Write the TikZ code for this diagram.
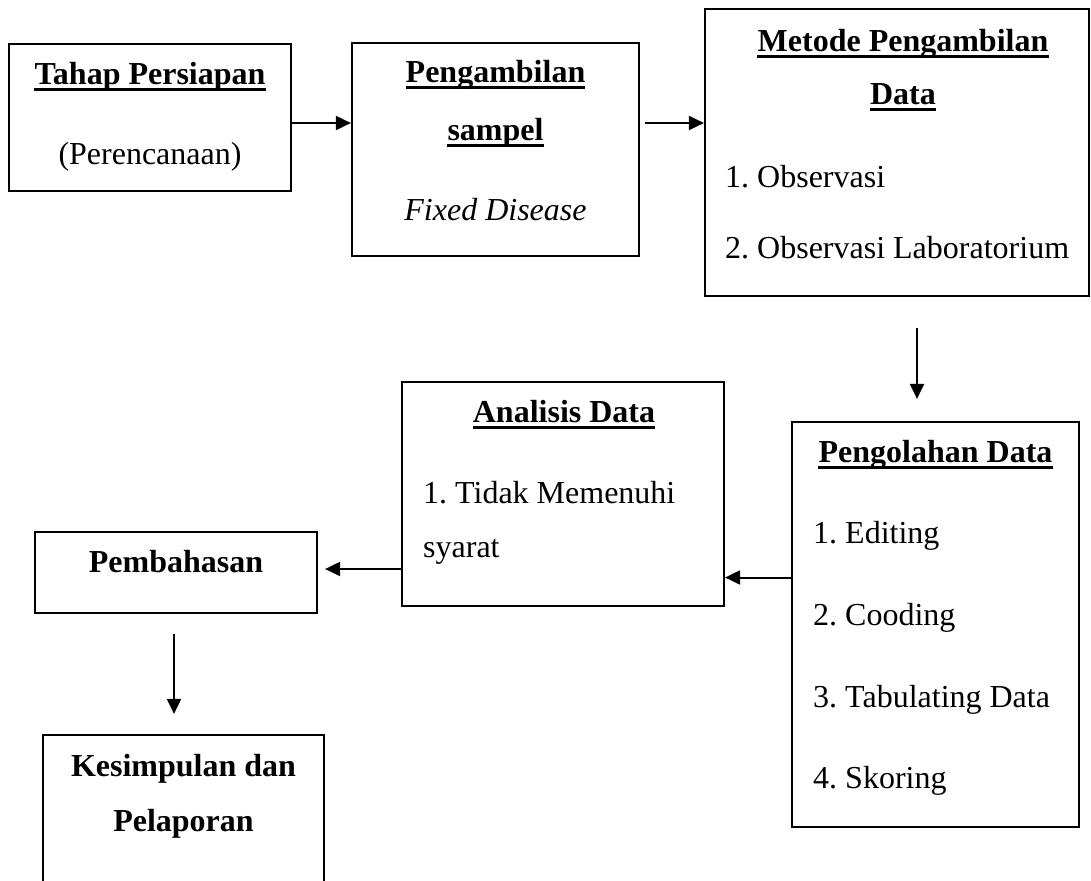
\documentclass[tikz,border=0pt]{standalone}
\usepackage{fontspec}
\setmainfont{Liberation Serif}
\usetikzlibrary{arrows.meta}
\frenchspacing
\tikzset{
  box/.style={draw, line width=2.2pt, rectangle, inner sep=0pt},
  txt/.style={inner sep=0pt, anchor=base, font=\fontsize{32pt}{38pt}\selectfont},
  ltxt/.style={txt, anchor=base west},
  btxt/.style={txt, font=\fontsize{32pt}{38pt}\selectfont\bfseries},
  itxt/.style={txt, font=\fontsize{32pt}{38pt}\selectfont\itshape},
  uline/.style={line width=3pt},
  arr/.style={line width=2pt, -{Triangle[length=15pt,width=14pt]}}
}
\begin{document}
\begin{tikzpicture}[x=1pt,y=-1pt]
\clip (0,0) rectangle (1091,880);
\fill[white] (0,0) rectangle (1091,880);
% boxes
\node[box, minimum width=282pt, minimum height=147pt] (b1) at (150,117.5) {};
\node[box, minimum width=287pt, minimum height=213pt] (b2) at (495.5,149.5) {};
\node[box, minimum width=384pt, minimum height=287pt] (b3) at (897,152.5) {};
\node[box, minimum width=287pt, minimum height=405pt] (b4) at (935.5,624.5) {};
\node[box, minimum width=322pt, minimum height=224pt] (b5) at (563,494) {};
\node[box, minimum width=282pt, minimum height=81pt] (b6) at (176,572.5) {};
\node[box, minimum width=281pt, minimum height=170pt] (b7) at (183.5,820) {};
% box 1 texts
\node[btxt] (t1a) at (150,85) {Tahap Persiapan};
\draw[uline] ([yshift=-4.5pt]t1a.base west) -- ([yshift=-4.5pt]t1a.base east);
\node[txt] (t1b) at (150,164) {(Perencanaan)};
% box 2 texts
\node[btxt] (t2a) at (495.5,83) {Pengambilan};
\draw[uline] ([yshift=-5pt]t2a.base west) -- ([yshift=-5pt]t2a.base east);
\node[btxt] (t2b) at (495.5,140) {sampel};
\draw[uline] ([yshift=-5pt]t2b.base west) -- ([yshift=-5pt]t2b.base east);
\node[itxt] (t2c) at (495.5,220) {Fixed Disease};
% box 3 texts
\node[btxt] (t3a) at (903,52) {Metode Pengambilan};
\draw[uline] ([yshift=-5pt]t3a.base west) -- ([yshift=-5pt]t3a.base east);
\node[btxt] (t3b) at (903,105) {Data};
\draw[uline] ([yshift=-5pt]t3b.base west) -- ([yshift=-5pt]t3b.base east);
\node[ltxt] (t3c) at (725,187) {1. Observasi};
\node[ltxt] (t3d) at (725,258) {2. Observasi Laboratorium};
% box 4 texts
\node[btxt] (t4a) at (935.5,462) {Pengolahan Data};
\draw[uline] ([yshift=-5pt]t4a.base west) -- ([yshift=-5pt]t4a.base east);
\node[ltxt] (t4b) at (813,543) {1. Editing};
\node[ltxt] (t4c) at (813,625) {2. Cooding};
\node[ltxt] (t4d) at (813,707) {3. Tabulating Data};
\node[ltxt] (t4e) at (813,788) {4. Skoring};
% box 5 texts
\node[btxt] (t5a) at (564,422) {Analisis Data};
\draw[uline] ([yshift=-5pt]t5a.base west) -- ([yshift=-5pt]t5a.base east);
\node[ltxt] (t5b) at (423,503) {1. Tidak Memenuhi};
\node[ltxt] (t5c) at (423,557) {syarat};
% box 6 text
\node[btxt] (t6a) at (176,572) {Pembahasan};
% box 7 texts
\node[btxt] (t7a) at (183.5,776) {Kesimpulan dan};
\node[btxt] (t7b) at (183.5,831) {Pelaporan};
% arrows
\draw[arr] ([yshift=-5.5pt]b1.east) coordinate (s1) -- (s1 -| b2.west);
\draw[arr] ([xshift=5pt,yshift=26.5pt]b2.east) coordinate (s2) -- (s2 -| b3.west);
\draw[arr] ([xshift=20pt,yshift=-31pt]b3.south) -- ([xshift=-18.5pt,yshift=22pt]b4.north);
\draw[arr] ([yshift=47pt]b4.west) coordinate (s4) -- (s4 -| b5.east);
\draw[arr] ([yshift=-75pt]b5.west) -- ([xshift=7pt,yshift=3.5pt]b6.east);
\draw[arr] ([xshift=-2pt,yshift=-20pt]b6.south) -- ([xshift=-9.5pt,yshift=20pt]b7.north);
\end{tikzpicture}
\end{document}
